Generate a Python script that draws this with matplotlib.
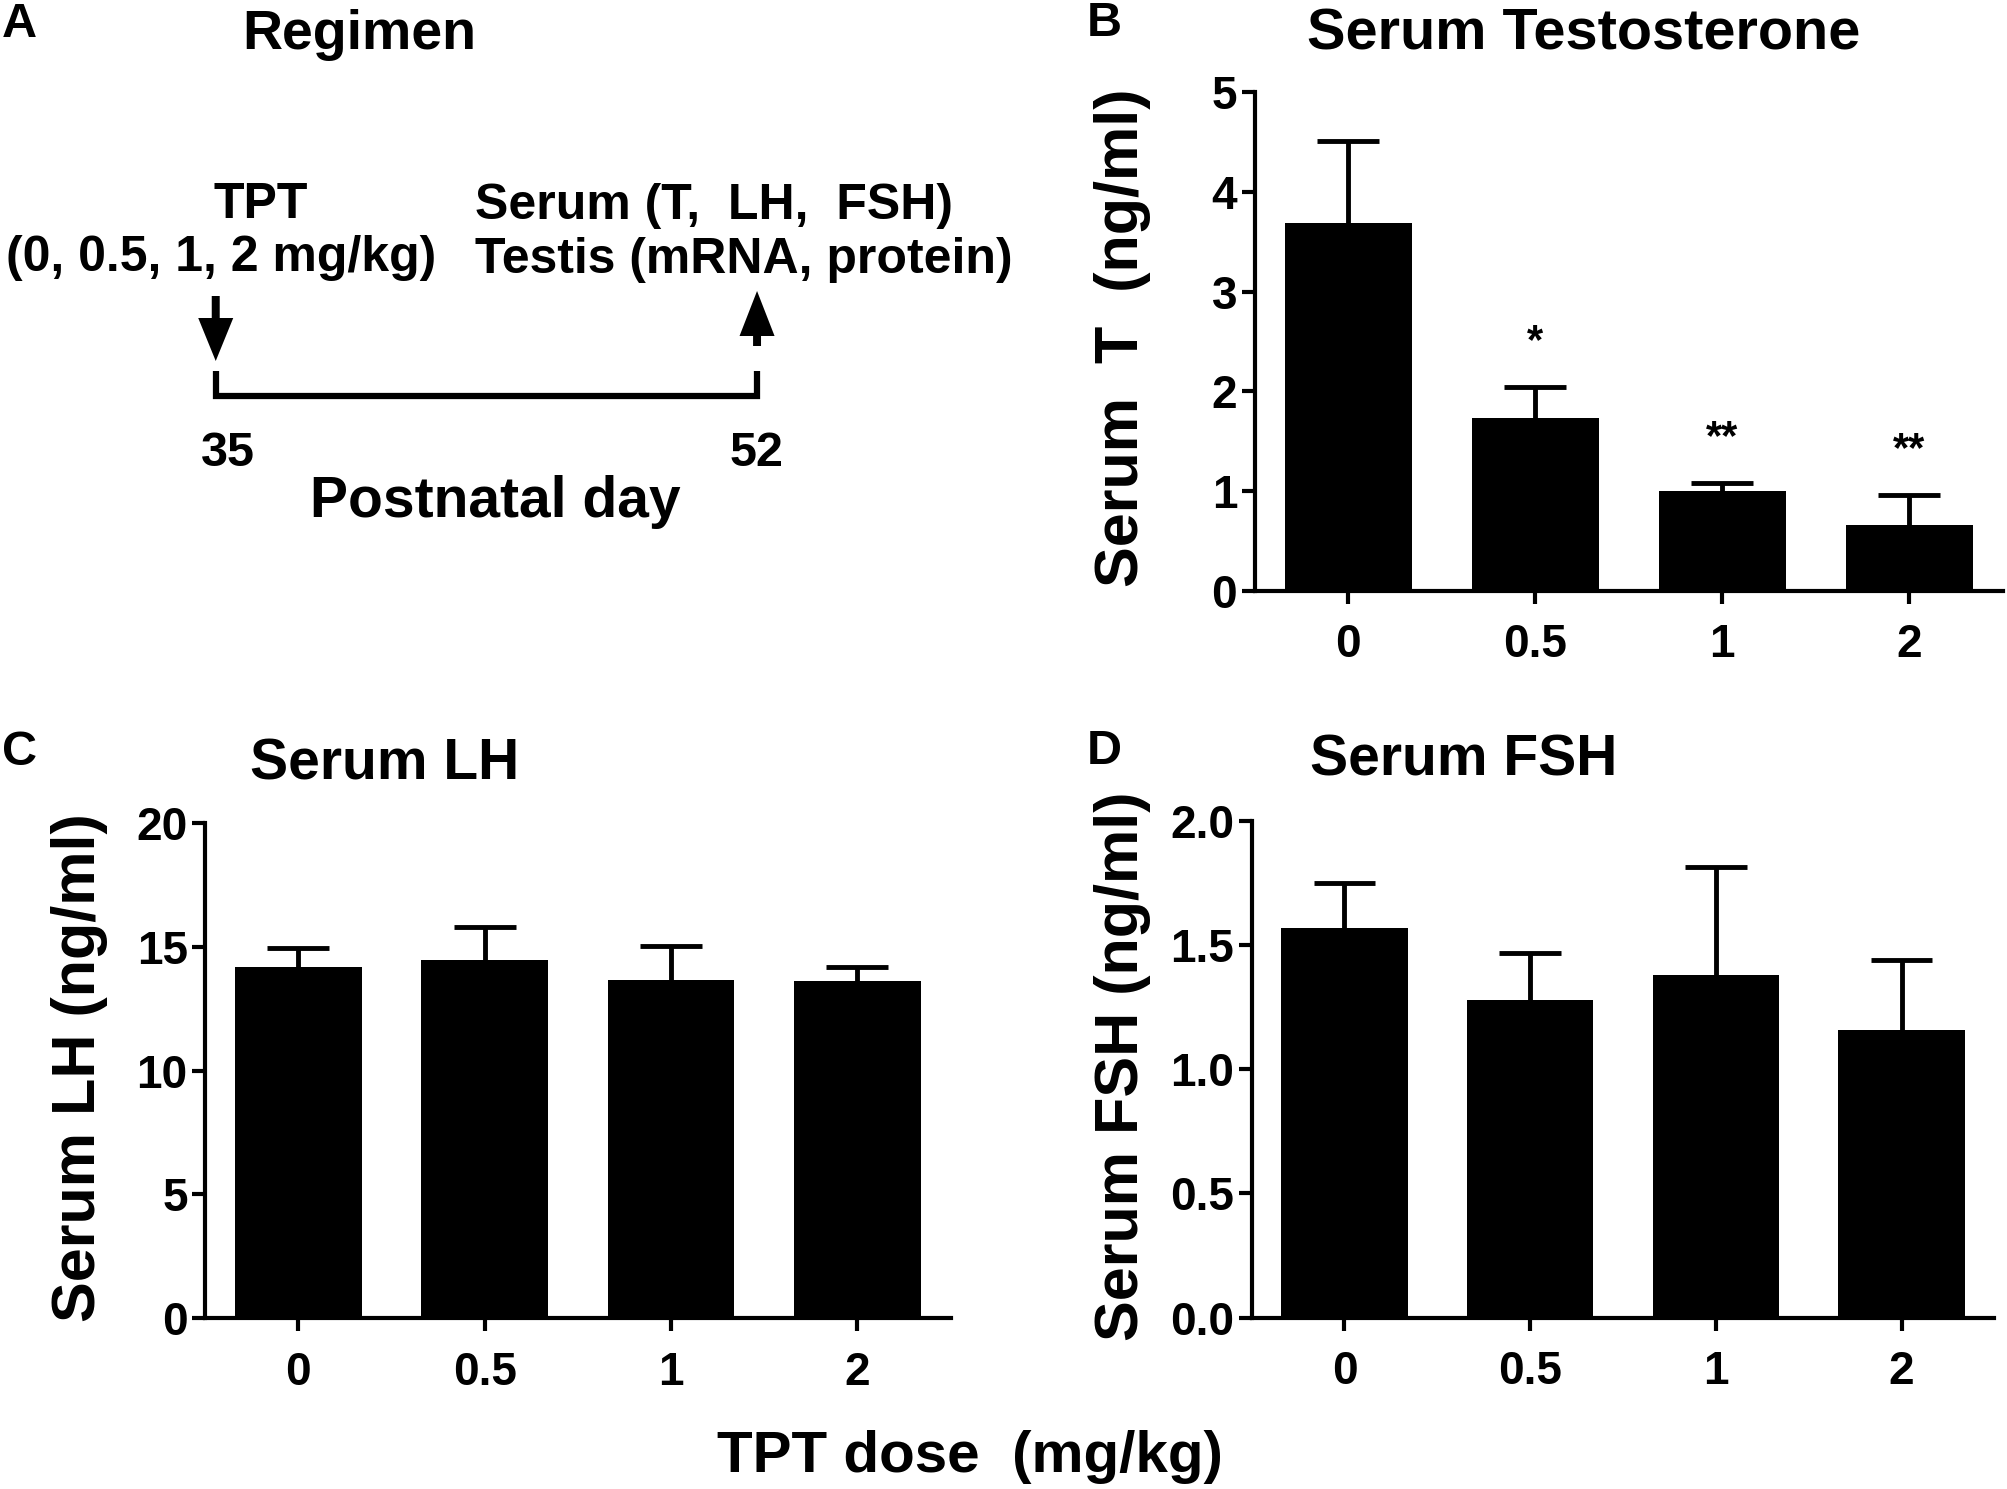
import matplotlib
matplotlib.use("Agg")
import matplotlib.pyplot as plt

# Figura de 4 paneles: régimen (A) y hormonas séricas (B, C, D)
W, H = 2008, 1489

doses = ["0", "0.5", "1", "2"]

t_mean = [3.69, 1.73, 1.00, 0.66]
t_sem = [0.82, 0.31, 0.08, 0.30]
t_sig = ["", "*", "**", "**"]

lh_mean = [14.20, 14.48, 13.66, 13.60]
lh_sem = [0.75, 1.34, 1.39, 0.60]

fsh_mean = [1.57, 1.28, 1.38, 1.16]
fsh_sem = [0.18, 0.19, 0.435, 0.28]

regimen_days = [35, 52]

plt.rcParams["font.family"] = ["Liberation Sans", "DejaVu Sans"]
plt.rcParams["font.weight"] = "bold"

fig = plt.figure(figsize=(W / 100, H / 100), dpi=100)


def fx(px):
    return px / W


def fy(py):
    return 1 - py / H


def bar_panel(rect, means, sems, ylim, yticks, fmt, ylabel, lab_x):
    ax = fig.add_axes(rect)
    x = list(range(len(means)))
    tops = [m + s for m, s in zip(means, sems)]
    ax.bar(x, means, width=0.68, color="black", edgecolor="none", zorder=2)
    # barra de error sólo hacia arriba, con tapa
    ax.vlines(x, means, tops, color="black", lw=3.5, zorder=1)
    ax.hlines(tops, [i - 0.166 for i in x], [i + 0.166 for i in x],
              color="black", lw=3.5, zorder=1)
    ax.set_xlim(-0.5, 3.5)
    ax.set_ylim(*ylim)
    ax.set_yticks(yticks)
    ax.set_yticklabels([fmt.format(v) for v in yticks])
    ax.set_xticks(x)
    ax.set_xticklabels(doses)
    for s in ("top", "right"):
        ax.spines[s].set_visible(False)
    for s in ("left", "bottom"):
        ax.spines[s].set_linewidth(3)
    ax.tick_params(axis="both", length=9.5, width=3, labelsize=33)
    ax.tick_params(axis="x", pad=14)
    ax.tick_params(axis="y", pad=3)
    ax.set_ylabel(ylabel, fontsize=44, fontweight="bold")
    ax.yaxis.set_label_coords(lab_x, 0.507)
    return ax


# ── Panel B ──
ax_b = bar_panel([0.6248, 0.60336, 0.37251, 0.33459], t_mean, t_sem,
                 (0, 5), [0, 1, 2, 3, 4, 5], "{:g}", "Serum  T  (ng/ml)", -0.1385)
for i, s in enumerate(t_sig):
    if s:
        ax_b.text(i, t_mean[i] + t_sem[i] + 0.34, s, ha="center", va="baseline",
                  fontsize=30, fontweight="bold")

# ── Panel C ──
bar_panel([0.10209, 0.11464, 0.3713, 0.33264], lh_mean, lh_sem,
          (0, 20), [0, 5, 10, 15, 20], "{:g}", "Serum LH (ng/ml)", -0.1296)

# ── Panel D ──
bar_panel([0.62331, 0.11511, 0.36992, 0.33351], fsh_mean, fsh_sem,
          (0, 2.0), [0.0, 0.5, 1.0, 1.5, 2.0], "{:.1f}", "Serum FSH (ng/ml)", -0.1357)

# ── Panel A: esquema del régimen ──
ax_a = fig.add_axes([0, fy(560), fx(1000), 560 / H])
ax_a.set_xlim(28.225, 59.63)
ax_a.set_ylim(560, 0)
ax_a.axis("off")
d0, d1 = regimen_days
ax_a.plot([d0, d0, d1, d1], [371, 396, 396, 371], color="black", lw=4.5,
          solid_joinstyle="miter", solid_capstyle="butt")
ax_a.arrow(d0, 296, 0, 65, width=0.25, head_width=1.1, head_length=43,
           length_includes_head=True, color="black", lw=0)
ax_a.arrow(d1, 346, 0, -55, width=0.25, head_width=1.1, head_length=45,
           length_includes_head=True, color="black", lw=0)

txt = dict(va="baseline", fontweight="bold")
fig.text(fx(214), fy(218), "TPT", ha="left", fontsize=36, **txt)
fig.text(fx(6), fy(271), "(0, 0.5, 1, 2 mg/kg)", ha="left", fontsize=36, **txt)
fig.text(fx(475), fy(219), "Serum (T,  LH,  FSH)", ha="left", fontsize=36, **txt)
fig.text(fx(475), fy(273), "Testis (mRNA, protein)", ha="left", fontsize=36, **txt)
fig.text(fx(201), fy(466), str(d0), ha="left", fontsize=35, **txt)
fig.text(fx(757), fy(466), str(d1), ha="center", fontsize=35, **txt)
fig.text(fx(495), fy(517), "Postnatal day", ha="center", fontsize=41, **txt)

# ── Títulos y letras de panel ──
fig.text(fx(359), fy(49), "Regimen", ha="center", fontsize=40, **txt)
fig.text(fx(1584), fy(49), "Serum Testosterone", ha="center", fontsize=41.5, **txt)
fig.text(fx(250), fy(780), "Serum LH", ha="left", fontsize=41, **txt)
fig.text(fx(1310), fy(775), "Serum FSH", ha="left", fontsize=41, **txt)

for lab, px, py in [("A", 2, 37), ("B", 1087, 36), ("C", 2, 765), ("D", 1087, 764)]:
    fig.text(fx(px), fy(py), lab, ha="left", fontsize=35, **txt)

fig.text(fx(970), fy(1472), "TPT dose  (mg/kg)", ha="center", fontsize=42, **txt)

fig.savefig("out.png", dpi=100)
